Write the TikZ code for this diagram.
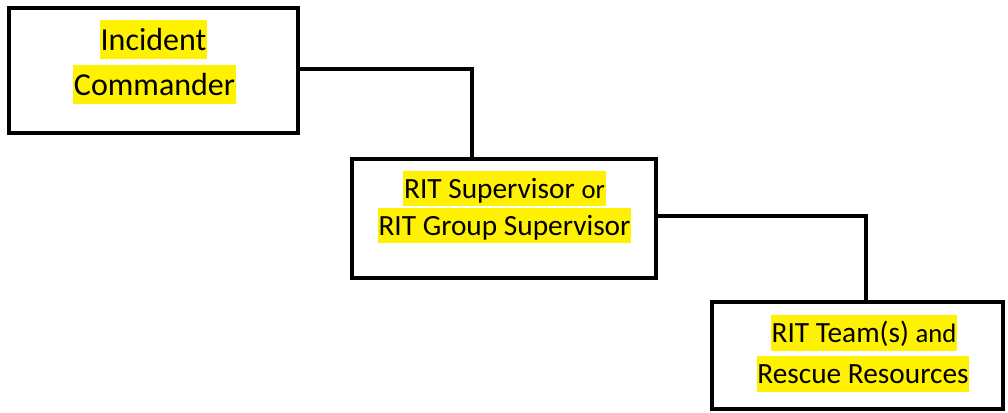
\documentclass[tikz,border=0pt]{standalone}
\usepackage{fontspec}
\setmainfont{Carlito}
\begin{document}
\begin{tikzpicture}[x=0.75pt,y=-0.75pt,
  box/.style={draw=black, line width=3pt, fill=white, inner sep=0pt},
  conn/.style={draw=black, line width=3pt, line join=miter},
  hlbig/.style={fill=yellow, inner xsep=0.5pt, inner ysep=0pt, font=\fontsize{24}{28}\selectfont, text height=22.85pt, text depth=6.46pt},
  hl/.style={fill=yellow, inner xsep=0.5pt, inner ysep=0pt, font=\fontsize{22}{26}\selectfont, text height=20.9pt, text depth=5.9pt}
]
\useasboundingbox (0,0) rectangle (1008,413);
\newcommand{\smallw}[1]{{\fontsize{20}{24}\selectfont #1}}
% boxes
\node[box, minimum width=216.75pt, minimum height=93.75pt] (b1) at (153.5,70.5) {};
\node[box, minimum width=228pt, minimum height=89.25pt] (b2) at (504,218.5) {};
\node[box, minimum width=218.25pt, minimum height=80.25pt] (b3) at (857.5,355.5) {};
% connector bend points
\coordinate (k1) at (472,69);
\coordinate (k2) at (866,216);
\draw[conn] (b1.east |- k1) -- (k1) -- (k1 |- b2.north);
\draw[conn] (b2.east |- k2) -- (k2) -- (k2 |- b3.north);
% texts
\node[hlbig] (t1a) at (153.5,39.5) {Incident};
\node[hlbig] (t1b) at (154.5,84.5) {Commander};
\node[hl] (t2a) at (504.5,188.5) {RIT Supervisor \smallw{or}};
\node[hl] (t2b) at (504.5,225.5) {RIT Group Supervisor};
\node[hl] (t3a) at (864,333) {RIT Team(s) \smallw{and}};
\node[hl] (t3b) at (863,374) {Rescue Resources};
\end{tikzpicture}
\end{document}
